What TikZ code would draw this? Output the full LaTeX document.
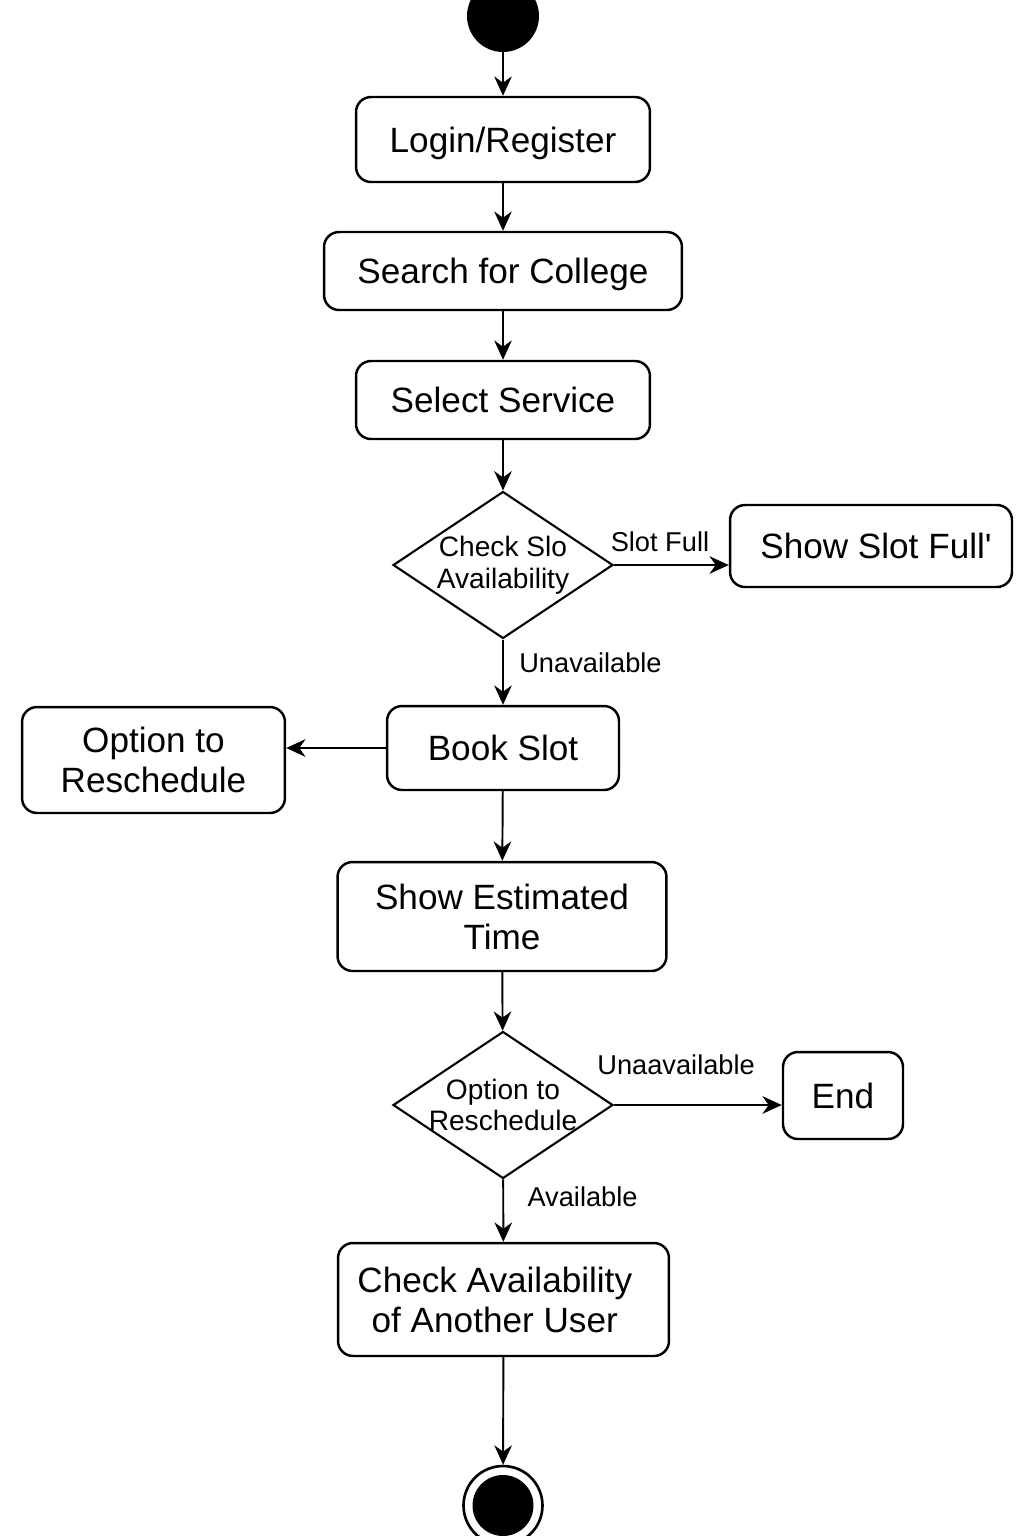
\documentclass[tikz,border=0pt]{standalone}
\usepackage{fontspec}
\setmainfont{Liberation Sans}
\usetikzlibrary{shapes.geometric,arrows.meta,positioning}
\tikzset{>={Stealth[length=11pt,width=10pt]}}
\tikzset{
  action/.style={draw, rounded corners=0.3cm, line width=1.4pt, align=center, inner sep=0pt,
    text depth=0pt, font=\fontsize{20}{22.5}\selectfont},
  decision/.style={draw, diamond, aspect=1.5, line width=1.2pt, align=center, inner sep=0pt,
    minimum width=4.4cm, minimum height=2.94cm, font=\fontsize{16}{18}\selectfont},
  guard/.style={font=\fontsize{15.5}{18}\selectfont},
  flow/.style={->, line width=1.1pt}
}

\begin{document}
\begin{tikzpicture}[x=0.02cm, y=-0.02cm]
  \useasboundingbox (0,0) rectangle (1024,1536);
  % initial and final states
  \node [circle, fill, inner sep=0pt, minimum size=1.44cm] (start) at (503,16) {};
  \node [circle, draw, line width=1.5pt, inner sep=0pt, minimum size=1.58cm] (stop) at (503,1505.5) {};
  \fill (stop.center) circle (0.61cm);
  % actions
  \node [action, minimum width=5.88cm, minimum height=1.7cm] (login) at (503,139.5) {Login/Register};
  \node [action, minimum width=7.16cm, minimum height=1.56cm] (search) at (503,271) {Search for College};
  \node [action, minimum width=5.88cm, minimum height=1.56cm] (select) at (503,400) {Select Service};
  \node [decision] (check) at (503,565) {Check Slo\\Availability};
  \node [action, minimum width=5.64cm, minimum height=1.64cm] (full) at (871,546) {\hspace{0.2cm}Show Slot Full\textquotesingle};
  \node [action, minimum width=4.64cm, minimum height=1.68cm] (book) at (503,748) {Book Slot};
  \node [action, minimum width=5.26cm, minimum height=2.12cm] (opt) at (153.5,760) {Option to\\Reschedule};
  \node [action, minimum width=6.58cm, minimum height=2.18cm] (estimate) at (502,916.5) {Show Estimated\\Time};
  \node [decision, inner xsep=-0.18cm] (resched) at (503,1105) {Option to\\Reschedule};
  \node [action, minimum width=2.4cm, minimum height=1.74cm] (finish) at (843,1095.5) {End};
  \node [action, minimum width=6.62cm, minimum height=2.26cm] (another) at (503.5,1299.5) {Check Availability\hspace*{0.35cm}\\of Another User\hspace*{0.35cm}};
  % flows
  \draw [flow] (start) -- (login);
  \draw [flow] (login) -- (search);
  \draw [flow] (search) -- (select);
  \draw [flow] (select) -- (check);
  \draw [flow] (check.east) -- node [guard, above=0.12cm, pos=0.4] (slotfull) {Slot Full} (check.east -| full.west);
  \draw [flow] (check) -- node [guard, right=0.19cm, pos=0.35] (unavail) {Unavailable} (book);
  \draw [flow] (book.west) -- (book.west -| opt.east);
  \draw [flow] (book) -- (estimate);
  \draw [flow] (estimate) -- (resched);
  \draw [flow] (resched.east) -- node [guard, above=0.46cm, pos=0.37] (unaavail) {Unaavailable} (resched.east -| finish.west);
  \draw [flow] (resched) -- node [guard, right=0.35cm, pos=0.27] (avail) {Available} (another);
  \draw [flow] (another) -- (stop);
\end{tikzpicture}
\end{document}
